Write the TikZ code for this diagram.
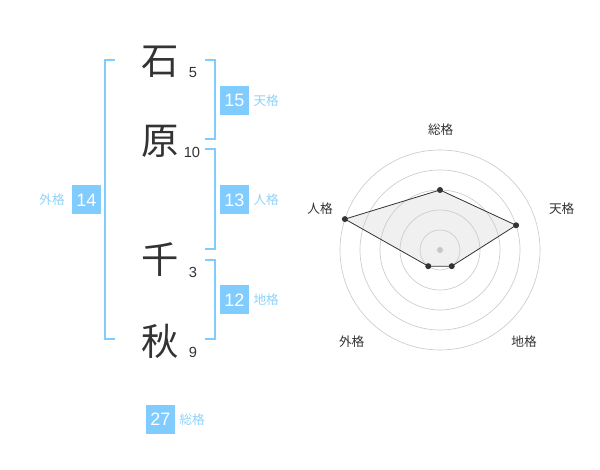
\documentclass[tikz,border=0pt]{standalone}
\usepackage{fontspec}
\setmainfont{Liberation Sans}
\newfontfamily\jpfont{Noto Sans CJK JP}
\usetikzlibrary{positioning}
\definecolor{kakublue}{HTML}{80CCFF}
\definecolor{kakulabel}{HTML}{8ED2FA}
\definecolor{inkgray}{HTML}{333333}
\tikzset{x=0.75pt, y=0.75pt, node distance=3pt,
  kanji/.style={font=\jpfont\fontsize{28}{28}\selectfont, text=inkgray, inner sep=0pt},
  strokes/.style={font=\fontsize{11}{11}\selectfont, text=inkgray, inner sep=0pt},
  kaku/.style={fill=kakublue, text=white, minimum size=21.75pt, inner sep=0pt, font=\fontsize{13.5}{13.5}\selectfont},
  kakuname/.style={text=kakulabel, font=\jpfont\fontsize{9.5}{9.5}\selectfont, inner sep=0pt},
  bracket/.style={draw=kakublue, line width=1.5pt},
  ring/.style={draw=black!20, line width=0.5pt},
  axisname/.style={font=\jpfont\fontsize{9.5}{9.5}\selectfont, text=inkgray, inner sep=0pt},
  dot/.style={circle, fill=inkgray, inner sep=0pt, minimum size=4.5pt}}
\begin{document}
\begin{tikzpicture}
				\useasboundingbox (0,0) rectangle (600,470);

				% name
				\node[kanji] (K1) at (160,408.5) {石};
				\node[kanji] (K2) at (160,328.5) {原};
				\node[kanji] (K3) at (160,210) {千};
				\node[kanji] (K4) at (160,128.5) {秋};
				\node[strokes] (S1) at (193,397.3) {5};
				\node[strokes] (S2) at (192,317.3) {10};
				\node[strokes] (S3) at (193,197.3) {3};
				\node[strokes] (S4) at (193,117.3) {9};

				% brackets
				\draw[bracket] (115,410) -- (105,410) -- (105,130.5) -- (115,130.5);
				\draw[bracket] (205,410) -- (214.5,410) -- (214.5,330.5) -- (205,330.5);
				\draw[bracket] (205,321) -- (214.5,321) -- (214.5,220.5) -- (205,220.5);
				\draw[bracket] (205,210) -- (214.5,210) -- (214.5,130.5) -- (205,130.5);

				% kaku
				\node[kaku] (Ten) at (234.5,369.5) {15};
				\node[kakuname] (TenL) [right=of Ten] {天格};
				\node[kaku] (Jin) at (234.5,270) {13};
				\node[kakuname] (JinL) [right=of Jin] {人格};
				\node[kaku] (Chi) at (234.5,170) {12};
				\node[kakuname] (ChiL) [right=of Chi] {地格};
				\node[kaku] (Gai) at (86.5,270) {14};
				\node[kakuname] (GaiL) [left=5pt of Gai] {外格};
				\node[kaku] (Sou) at (160.5,50.5) {27};
				\node[kakuname] (SouL) [right=of Sou] {総格};

				% radar
				\begin{scope}[shift={(440,220)}]
				\coordinate (O) at (0,0);
				\coordinate (Rsou) at (90:60);
				\coordinate (Rten) at (18:80);
				\coordinate (Rchi) at (-54:20);
				\coordinate (Rgai) at (-126:20);
				\coordinate (Rjin) at (162:100);
				\fill[black!6] (Rsou) -- (Rten) -- (Rchi) -- (Rgai) -- (Rjin) -- cycle;
				\foreach \r in {20,40,60,80,100}
					\draw[ring] (O) circle (\r);
				\fill[black!22] (O) circle (3);
				\draw[inkgray, line width=0.6pt] (Rsou) -- (Rten) -- (Rchi) -- (Rgai) -- (Rjin) -- cycle;
				\foreach \p in {Rsou,Rten,Rchi,Rgai,Rjin}
					\node[dot] at (\p) {};
				\node[axisname] (Asou) at (0.7,120) {総格};
				\node[axisname] (Aten) at (121.7,41.7) {天格};
				\node[axisname] (Achi) at (84,-91.7) {地格};
				\node[axisname] (Agai) at (-88.3,-91.7) {外格};
				\node[axisname] (Ajin) at (-120,41.7) {人格};
				\end{scope}

			\end{tikzpicture}
\end{document}
